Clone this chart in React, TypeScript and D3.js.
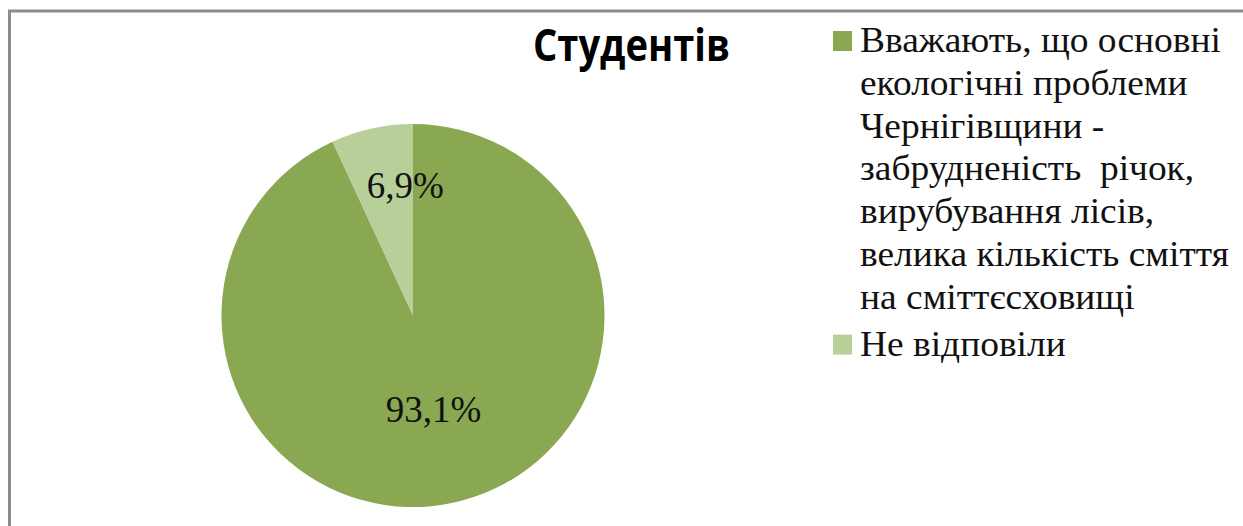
import * as React from "react";
import * as d3 from "d3";

const categories = ["Вважають", "Не відповіли"];
const values = [93.1, 6.9];
const colors = ["#8AA751", "#B9CF9A"];
const legendLines = [
  [
    "Вважають, що основні",
    "екологічні проблеми",
    "Чернігівщини -",
    "забрудненість  річок,",
    "вирубування лісів,",
    "велика кількість сміття",
    "на сміттєсховищі",
  ],
  ["Не відповіли"],
];
const title = "Студентів";

const W = 1243;
const H = 526;
const serif = "'Liberation Serif', 'Times New Roman', Tinos, serif";
const sans = "'Open Sans'";

// label radius as a share of the pie radius, plus a small sideways nudge
const labelRadius = [0.5, 0.7];
const labelNudge = [0, 21];

export default function App() {
  const cx = 413;
  const cy = 315.5;
  const r = 191.5;

  const arcs = d3
    .pie<number>()
    .sort(null)
    .value((d) => d)(values);
  const arc = d3.arc<d3.PieArcDatum<number>>().innerRadius(0).outerRadius(r);
  const fmt = (v: number) => d3.format(".1f")(v).replace(".", ",") + "%";

  const lineH = 42.8;
  let row = 0;
  const legendRows = categories.map((c, i) => {
    const start = row;
    row += legendLines[i].length;
    return { c, i, y: start * lineH + (i > 0 ? 4 : 0) };
  });

  return (
    <svg
      width={W}
      height={H}
      fontFamily={serif}
      style={{ position: "absolute", left: 0, top: 0, fontFamily: serif }}
    >
      {/* chart frame, runs off the right and bottom edge */}
      <rect
        x={9.5}
        y={11}
        width={W + 20}
        height={H + 20}
        fill="white"
        stroke="#8c8c8c"
        strokeWidth={3}
      />

      <g transform={`translate(${cx},${cy})`}>
        {arcs.map((d, i) => (
          <path key={i} d={arc(d) || ""} fill={colors[i]} />
        ))}
        {arcs.map((d, i) => {
          const lr = r * labelRadius[i];
          const [x, y] = d3
            .arc<d3.PieArcDatum<number>>()
            .innerRadius(lr)
            .outerRadius(lr)
            .centroid(d);
          return (
            <text
              key={i}
              x={x + labelNudge[i]}
              y={y}
              dy="0.35em"
              textAnchor="middle"
              fontSize={37}
              fill="#111"
            >
              {fmt(d.value)}
            </text>
          );
        })}
      </g>

      <g transform="translate(833,52)">
        {legendRows.map(({ c, i, y }) => (
          <g key={c} transform={`translate(0,${y})`}>
            <rect x={0} y={-21} width={19} height={20} fill={colors[i]} />
            {legendLines[i].map((t, j) => (
              <text
                key={j}
                transform={`translate(27,${j * lineH}) scale(1.07,1)`}
                fontSize={35}
                fill="#111"
                xmlSpace="preserve"
              >
                {t}
              </text>
            ))}
          </g>
        ))}
      </g>

      <text
        x={533}
        y={61}
        fontSize={44}
        fontWeight="bold"
        textLength={197}
        lengthAdjust="spacingAndGlyphs"
        style={{ fontFamily: sans }}
      >
        {title}
      </text>
    </svg>
  );
}
